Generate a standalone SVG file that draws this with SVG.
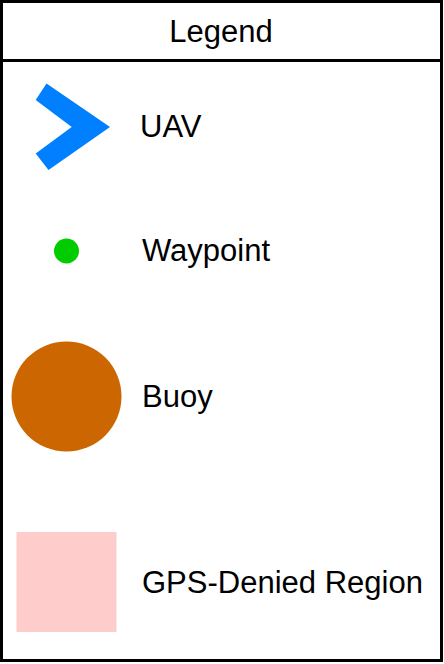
<svg xmlns="http://www.w3.org/2000/svg" width="444" height="664" viewBox="0 0 444 664">
<style>
text{font-family:"Liberation Sans",Arial,sans-serif;font-size:31px;fill:#000}
</style>
<rect width="444" height="664" fill="#fff"/>
<g id="legend">
<rect x="1.5" y="1.5" width="440" height="659" fill="#fff" stroke="#000" stroke-width="3"/>
<line x1="1.5" y1="60.5" x2="441.5" y2="60.5" stroke="#000" stroke-width="3"/>
<text x="221" y="42" text-anchor="middle">Legend</text>
</g>
<g id="uav">
<polygon points="46.5,83.5 110,127 48.5,170 35.7,153.5 71.7,127 35.7,100" fill="#007FFF"/>
<text x="140" y="137">UAV</text>
</g>
<g id="waypoint">
<circle cx="66.5" cy="251" r="12.5" fill="#00CC00"/>
<text x="142" y="261">Waypoint</text>
</g>
<g id="buoy">
<circle cx="66.5" cy="396.5" r="55" fill="#CC6600"/>
<text x="142" y="407">Buoy</text>
</g>
<g id="gps">
<rect x="16.5" y="532" width="100" height="100" fill="#FFCCCC"/>
<text x="142" y="593">GPS-Denied Region</text>
</g>
<g id="connectors"/>
</svg>
